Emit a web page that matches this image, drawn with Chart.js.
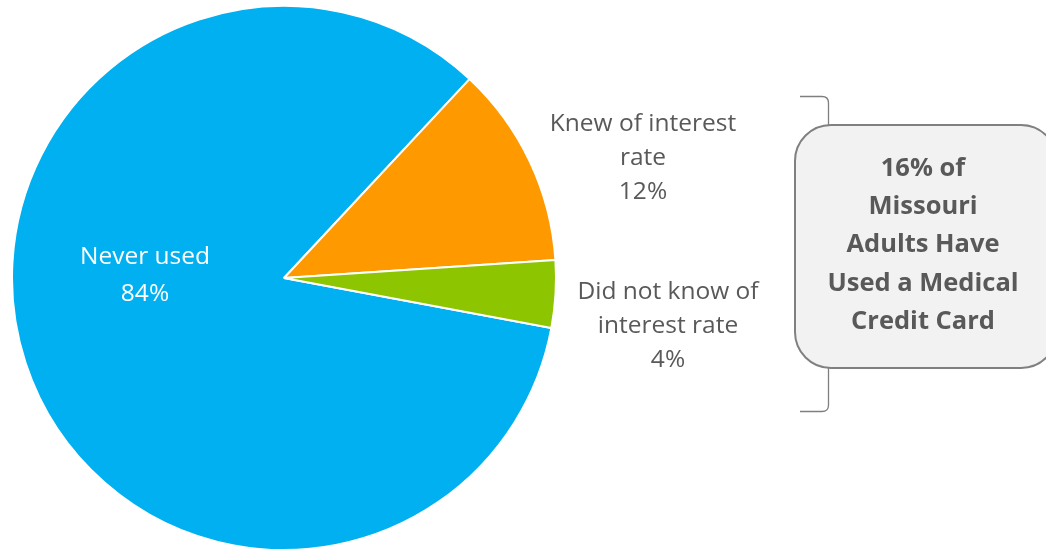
<!DOCTYPE html>
<html>
<head>
<meta charset="utf-8">
<script src="https://cdn.jsdelivr.net/npm/chart.js@4/dist/chart.umd.min.js"></script>
<style>
  html, body { margin: 0; padding: 0; background: #ffffff; }
  #wrap { position: relative; width: 1046px; height: 552px; }
  canvas { display: block; }
</style>
</head>
<body>
<div id="wrap"><canvas id="c" width="1046" height="552"></canvas></div>
<script>
const categories = ['Never used', 'Knew of interest rate', 'Did not know of interest rate'];
const shares = [84, 12, 4];
const sliceColors = ['#00B0F0', '#FF9900', '#8DC500'];
const labelLines = [
  ['Never used', '84%'],
  ['Knew of interest', 'rate', '12%'],
  ['Did not know of', 'interest rate', '4%']
];
const calloutLines = ['16% of', 'Missouri', 'Adults Have', 'Used a Medical', 'Credit Card'];

const FONT = '"Open Sans", "Noto Sans", sans-serif';

const labelPlugin = {
  id: 'labels',
  afterDraw(chart) {
    const ctx = chart.ctx;
    const meta = chart.getDatasetMeta(0);
    const arc0 = meta.data[0];
    const cx = arc0.x, cy = arc0.y;
    ctx.save();
    ctx.textAlign = 'center';
    ctx.textBaseline = 'middle';
    const anchors = [
      { x: cx - 139, y: cy - 2, color: '#FFFFFF', lh: 37 },
      { x: cx + 359, y: cy - 120, color: '#595959', lh: 34 },
      { x: cx + 384, y: cy + 48, color: '#595959', lh: 34 }
    ];
    ctx.font = '24.5px ' + FONT;
    labelLines.forEach((lines, i) => {
      const a = anchors[i];
      ctx.fillStyle = a.color;
      const start = a.y - (lines.length - 1) * a.lh / 2;
      lines.forEach((t, j) => ctx.fillText(t, a.x, start + j * a.lh));
    });

    // bracket
    ctx.strokeStyle = '#7F7F7F';
    ctx.lineWidth = 1.3;
    ctx.beginPath();
    ctx.moveTo(800, 96.5);
    ctx.lineTo(822, 96.5);
    ctx.quadraticCurveTo(828.5, 96.5, 828.5, 103);
    ctx.lineTo(828.5, 405);
    ctx.quadraticCurveTo(828.5, 411.5, 822, 411.5);
    ctx.lineTo(800, 411.5);
    ctx.stroke();

    // callout box
    const bx = 795, by = 125, bw = 262, bh = 243, r = 36;
    ctx.beginPath();
    ctx.moveTo(bx + r, by);
    ctx.lineTo(bx + bw - r, by);
    ctx.arcTo(bx + bw, by, bx + bw, by + r, r);
    ctx.lineTo(bx + bw, by + bh - r);
    ctx.arcTo(bx + bw, by + bh, bx + bw - r, by + bh, r);
    ctx.lineTo(bx + r, by + bh);
    ctx.arcTo(bx, by + bh, bx, by + bh - r, r);
    ctx.lineTo(bx, by + r);
    ctx.arcTo(bx, by, bx + r, by, r);
    ctx.closePath();
    ctx.fillStyle = '#F2F2F2';
    ctx.fill();
    ctx.lineWidth = 2;
    ctx.strokeStyle = '#808080';
    ctx.stroke();

    ctx.fillStyle = '#595959';
    ctx.font = 'bold 25.5px ' + FONT;
    calloutLines.forEach((t, j) => ctx.fillText(t, 923, 168.5 + j * 38.3));
    ctx.restore();
  }
};

new Chart(document.getElementById('c'), {
  type: 'pie',
  data: {
    labels: categories,
    datasets: [{
      data: shares,
      backgroundColor: sliceColors,
      borderColor: '#FFFFFF',
      borderWidth: 2
    }]
  },
  options: {
    responsive: false,
    animation: false,
    rotation: 100.6,
    layout: { padding: { left: 11, top: 5, right: 1046 - 11 - 546, bottom: 552 - 5 - 546 } },
    plugins: {
      legend: { display: false },
      tooltip: { enabled: false }
    }
  },
  plugins: [labelPlugin]
});
</script>
</body>
</html>
